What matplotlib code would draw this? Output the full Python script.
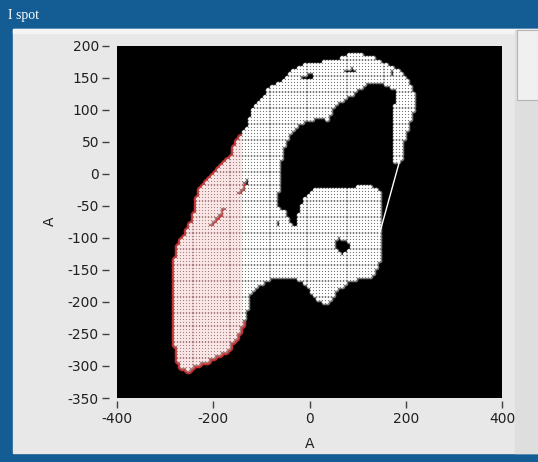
import numpy as np
import matplotlib
matplotlib.use("Agg")
import matplotlib.pyplot as plt
from matplotlib.path import Path
from matplotlib.patches import Rectangle

plt.rcParams["axes.unicode_minus"] = False

# outline of the spot (x, y in A units), holes listed separately
outline_x = [-116, -95, -81, -45, -33, -3, 59, 86, 128, 155, 185, 205, 218, 218, 205, 197,
             191, 185, 172, 174, 180, 170, 149, 128, 107, 80, 51, 38, 17, -18, -39, -53,
             -64, -66, -68, -50, -39, -28, -22, -12, 9, 38, 80, 107, 122, 134, 149, 149,
             149, 145, 128, 86, 59, 38, 17, -12, -33, -60, -87, -108, -123, -129, -137,
             -150, -170, -200, -227, -254, -269, -277, -279, -279, -269, -254, -241, -227,
             -206, -185, -164, -150, -129]
outline_y = [104, 120, 135, 151, 162, 173, 177, 188, 182, 173, 162, 146, 126, 104, 73, 53,
             26, 18, 21, 84, 131, 135, 141, 146, 135, 120, 104, 84, 88, 79, 63, 42,
             10, -25, -52, -60, -80, -85, -64, -41, -22, -21, -25, -18, -15, -21, -29, -88,
             -119, -139, -161, -166, -181, -202, -197, -170, -163, -161, -166, -174, -186,
             -208, -228, -249, -275, -286, -295, -306, -298, -275, -197, -135, -108, -93,
             -68, -21, -5, 10, 26, 53, 73]

hole_blob_x = [52, 62, 72, 84, 82, 70, 58, 50]
hole_blob_y = [-104, -97, -103, -106, -118, -126, -122, -112]
hole_dot_x = [-70, -62, -60, -68]
hole_dot_y = [-73, -72, -80, -81]
streak_a_x = [-130, -124, -146, -152]
streak_a_y = [-6, -12, -38, -32]
streak_b_x = [-177, -172, -202, -208]
streak_b_y = [-50, -56, -86, -80]
arc_hole1_x = [-18, -4, 9, 6, -10, -18]
arc_hole1_y = [150, 157, 155, 146, 145, 149]
arc_hole2_x = [72, 86, 101, 98, 84, 74]
arc_hole2_y = [161, 166, 163, 156, 155, 157]
arc_hole3_x = [163, 172, 177, 170]
arc_hole3_y = [158, 162, 153, 150]

# thin trace joining the arc to the lower body
trace_x = [188, 145]
trace_y = [22, -95]

step_x = 6.4
step_y = 5.0
red_edge_x = -140

holes = [(hole_blob_x, hole_blob_y), (hole_dot_x, hole_dot_y),
         (streak_a_x, streak_a_y), (streak_b_x, streak_b_y),
         (arc_hole1_x, arc_hole1_y), (arc_hole2_x, arc_hole2_y),
         (arc_hole3_x, arc_hole3_y)]

gx, gy = np.meshgrid(np.arange(-290, 230, step_x), np.arange(-320, 200, step_y))
pts = np.column_stack([gx.ravel(), gy.ravel()])
inside = Path(np.column_stack([outline_x, outline_y])).contains_points(pts)
for hx, hy in holes:
    inside &= ~Path(np.column_stack([hx, hy])).contains_points(pts)
pts = pts[inside]
red = pts[pts[:, 0] < red_edge_x]
white = pts[pts[:, 0] >= red_edge_x]

fig = plt.figure(figsize=(5.38, 4.62), dpi=100, facecolor="#135c94")
fig.patches.append(Rectangle((13 / 538, 1 - 453 / 462), 1, (453 - 29) / 462,
                             transform=fig.transFigure, color="#e8e8e8", zorder=-2))
fig.patches.append(Rectangle((13 / 538, 1 - 33 / 462), 1, 4 / 462,
                             transform=fig.transFigure, color="#f4f4f4", zorder=-2))
fig.patches.append(Rectangle((515 / 538, 1 - 453 / 462), 23 / 538, (453 - 30) / 462,
                             transform=fig.transFigure, color="#dedede", zorder=-2))
fig.patches.append(Rectangle((517 / 538, 1 - 100 / 462), 21 / 538, 70 / 462,
                             transform=fig.transFigure, facecolor="#f0f0f0",
                             edgecolor="#b4b4b4", lw=0.8, zorder=-1))
fig.text(8 / 538, 1 - 15 / 462, "I spot", color="white", fontsize=10,
         family="Liberation Serif", ha="left", va="center")

ax = fig.add_axes([117 / 538, 1 - 398 / 462, 385 / 538, 352.5 / 462])
ax.set_facecolor("black")

# halo layers first, then the point grids on top
ax.plot(red[:, 0], red[:, 1], "o", color="#d03636", ms=7.0, mew=0, alpha=0.9)
ax.plot(red[:, 0], red[:, 1], "o", color="#a88080", ms=4.2, mew=0)
ax.plot(white[:, 0], white[:, 1], "o", color="#7a7a7a", ms=4.2, mew=0)
ax.plot(red[:, 0], red[:, 1], "+", color="#fae6e6", ms=2.9, mew=1.2)
ax.plot(white[:, 0], white[:, 1], "+", color="white", ms=2.7, mew=1.1)
ax.plot(trace_x, trace_y, color="white", lw=1.0)

ax.set_xlim(-400, 400)
ax.set_ylim(-350, 200)
ax.set_xticks([-400, -200, 0, 200, 400])
ax.set_yticks(np.arange(-350, 201, 50))
for s in ax.spines.values():
    s.set_visible(False)
ax.spines["left"].set_position(("outward", 6))
ax.spines["bottom"].set_position(("outward", 2))
ax.tick_params(axis="y", direction="out", length=5, width=1, color="#404040",
               labelsize=10, labelcolor="#202020", pad=2)
ax.tick_params(axis="x", direction="out", length=5, width=1, color="#404040",
               labelsize=10, labelcolor="#202020", pad=3)
ax.set_xlabel("A", fontsize=10, color="#202020", labelpad=8)
ax.set_ylabel("A", fontsize=10, color="#202020", labelpad=8)

fig.savefig("out.png", dpi=100, facecolor=fig.get_facecolor())
